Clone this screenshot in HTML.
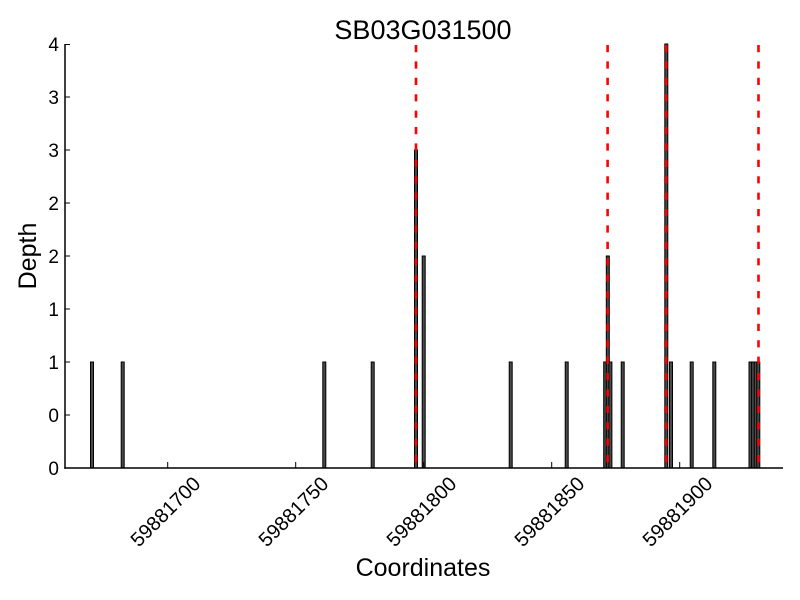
<!DOCTYPE html>
<html>
<head>
<meta charset="utf-8">
<style>
html,body{margin:0;padding:0;background:#fff;}
svg{display:block;}
text{font-family:"Liberation Sans",Arial,sans-serif;fill:#000;}
</style>
</head>
<body>
<svg width="800" height="600" viewBox="0 0 800 600" xmlns="http://www.w3.org/2000/svg">
<rect width="800" height="600" fill="#fff"/>
<!-- bars -->
<g fill="#4a4a4a" stroke="#000" stroke-width="1">
<rect x="90.5" y="362" width="3" height="106"/>
<rect x="121.2" y="362" width="3" height="106"/>
<rect x="322.8" y="362" width="3" height="106"/>
<rect x="371.2" y="362" width="3" height="106"/>
<rect x="414.5" y="150" width="3" height="318"/>
<rect x="422.2" y="256" width="3" height="212"/>
<rect x="509.2" y="362" width="3" height="106"/>
<rect x="565.2" y="362" width="3" height="106"/>
<rect x="603.7" y="362" width="3" height="106"/>
<rect x="606.3" y="256" width="3" height="212"/>
<rect x="608.9" y="362" width="3" height="106"/>
<rect x="621.2" y="362" width="3" height="106"/>
<rect x="664.8" y="44" width="3" height="424"/>
<rect x="669.5" y="362" width="3" height="106"/>
<rect x="690.2" y="362" width="3" height="106"/>
<rect x="712.8" y="362" width="3" height="106"/>
<rect x="749.0" y="362" width="3" height="106"/>
<rect x="751.6" y="362" width="3" height="106"/>
<rect x="754.2" y="362" width="3" height="106"/>
<rect x="756.8" y="362" width="3" height="106"/>
</g>
<!-- red dashed lines -->
<g stroke="#ff0000" stroke-width="2.6" stroke-dasharray="7.2 9.2" fill="none">
<line x1="416" y1="45" x2="416" y2="468"/>
<line x1="607.6" y1="45" x2="607.6" y2="468"/>
<line x1="666.3" y1="45" x2="666.3" y2="468"/>
<line x1="758.5" y1="45" x2="758.5" y2="468"/>
</g>
<!-- axes spines -->
<g stroke="#000" stroke-width="1.5" fill="none">
<line x1="65" y1="44" x2="65" y2="468.7"/>
<line x1="64.3" y1="468" x2="783" y2="468"/>
</g>
<!-- y ticks -->
<g stroke="#000" stroke-width="1">
<line x1="65" y1="468" x2="70" y2="468"/>
<line x1="65" y1="415" x2="70" y2="415"/>
<line x1="65" y1="362" x2="70" y2="362"/>
<line x1="65" y1="309" x2="70" y2="309"/>
<line x1="65" y1="256" x2="70" y2="256"/>
<line x1="65" y1="203" x2="70" y2="203"/>
<line x1="65" y1="150" x2="70" y2="150"/>
<line x1="65" y1="97" x2="70" y2="97"/>
<line x1="65" y1="44.5" x2="70" y2="44.5"/>
</g>
<!-- x ticks -->
<g stroke="#000" stroke-width="1">
<line x1="167.7" y1="468" x2="167.7" y2="462"/>
<line x1="295.7" y1="468" x2="295.7" y2="462"/>
<line x1="423.7" y1="468" x2="423.7" y2="462"/>
<line x1="551.7" y1="468" x2="551.7" y2="462"/>
<line x1="679.7" y1="468" x2="679.7" y2="462"/>
</g>
<!-- y tick labels -->
<g font-size="19" text-anchor="end">
<text x="59" y="475">0</text>
<text x="59" y="422">0</text>
<text x="59" y="369">1</text>
<text x="59" y="316">1</text>
<text x="59" y="263">2</text>
<text x="59" y="210">2</text>
<text x="59" y="157">3</text>
<text x="59" y="104">3</text>
<text x="59" y="51">4</text>
</g>
<!-- x tick labels -->
<g font-size="20" text-anchor="end">
<text transform="translate(201.7,485) rotate(-45)">59881700</text>
<text transform="translate(329.7,485) rotate(-45)">59881750</text>
<text transform="translate(457.7,485) rotate(-45)">59881800</text>
<text transform="translate(585.7,485) rotate(-45)">59881850</text>
<text transform="translate(713.7,485) rotate(-45)">59881900</text>
</g>
<!-- title & axis labels -->
<text x="423" y="39" font-size="27" text-anchor="middle">SB03G031500</text>
<text x="423" y="576" font-size="25" text-anchor="middle">Coordinates</text>
<text transform="translate(36,256) rotate(-90)" font-size="25" text-anchor="middle">Depth</text>
</svg>
</body>
</html>
